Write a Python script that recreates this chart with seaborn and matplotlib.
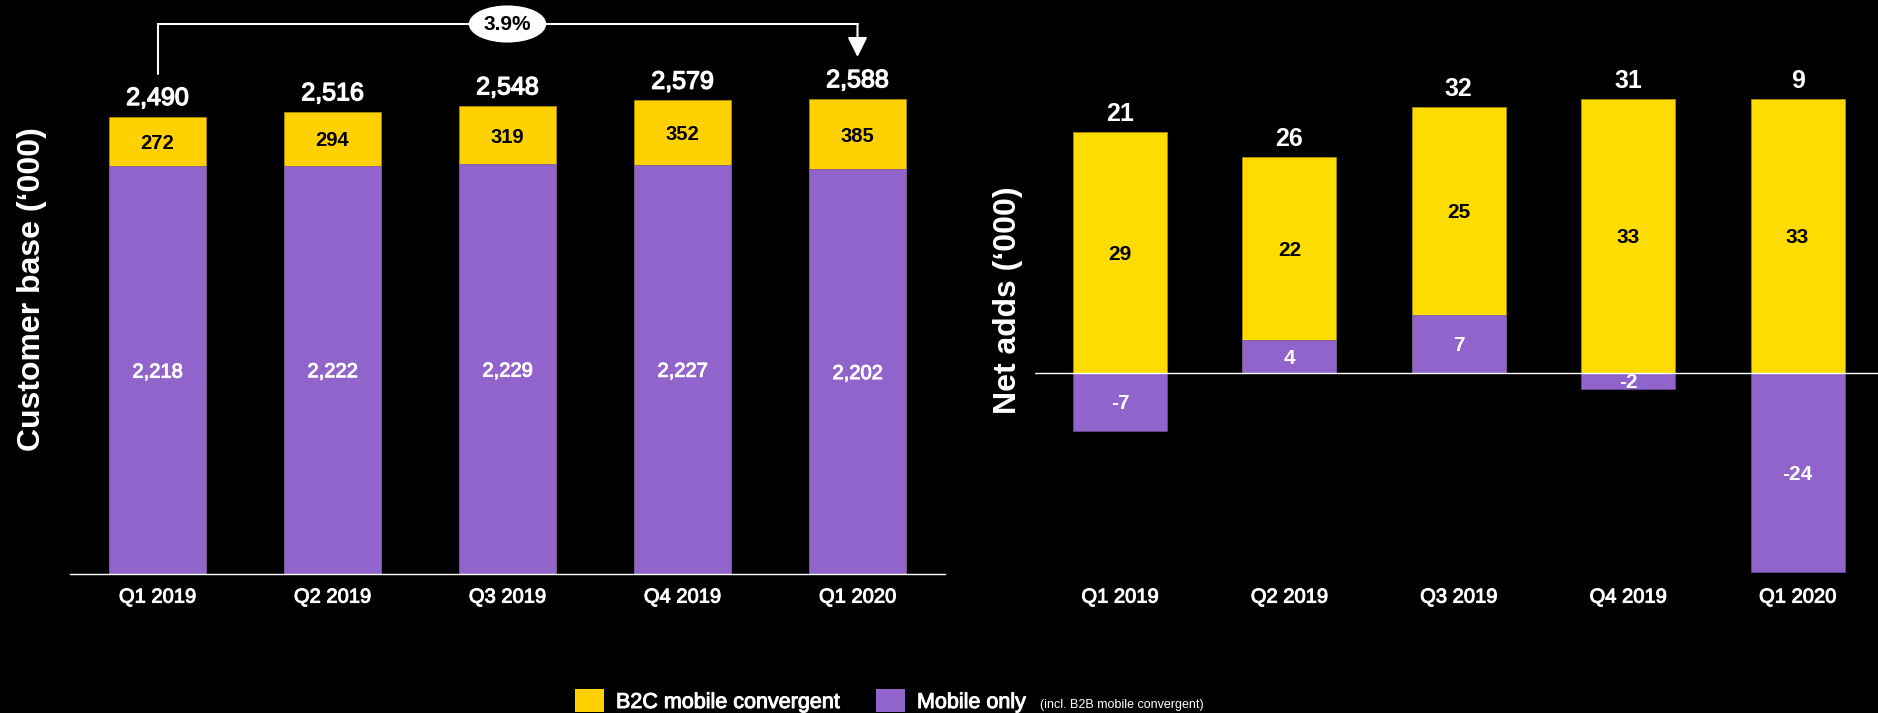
import matplotlib
matplotlib.use("Agg")
import matplotlib.pyplot as plt
import matplotlib.patheffects as pe
from matplotlib.patches import Rectangle
import pandas as pd
import seaborn as sns

# ---- data -------------------------------------------------------------
quarters = ["Q1 2019", "Q2 2019", "Q3 2019", "Q4 2019", "Q1 2020"]

base_convergent = [272, 294, 319, 352, 385]
base_mobile_only = [2218, 2222, 2229, 2227, 2202]
base_total = [2490, 2516, 2548, 2579, 2588]

adds_convergent = [29, 22, 25, 33, 33]
adds_mobile_only = [-7, 4, 7, -2, -24]
adds_total = [21, 26, 32, 31, 9]

growth_label = "3.9%"
legend_labels = ["B2C mobile convergent", "Mobile only", "(incl. B2B mobile convergent)"]

# ---- style ------------------------------------------------------------
YEL_L = "#FFD100"
YEL_R = "#FFDC00"
PURPLE = "#9164CC"
YEL_EDGE = "#B09200"
PUR_EDGE = "#6E4C9E"

sns.set_theme(style="dark", rc={
    "figure.facecolor": "black",
    "axes.facecolor": "black",
    "savefig.facecolor": "black",
    "text.color": "white",
    "axes.grid": False,
})
plt.rcParams["font.family"] = ["Liberation Sans", "DejaVu Sans"]

# a slightly heavier stroke gives a "medium" weight look to regular text
MEDIUM_W = [pe.withStroke(linewidth=0.7, foreground="white")]

W, H = 1878, 713
fig = plt.figure(figsize=(W / 100, H / 100), dpi=100)

BASE_PX = 573.7          # baseline of both panels (pixels from top)
left_ppu = 0.1836        # pixels per thousand customers
right_ppu = 8.3          # pixels per thousand net adds
zero_px = 372.7

ax1 = fig.add_axes([70 / W, (H - BASE_PX) / H, 875 / W, BASE_PX / H])
ax2 = fig.add_axes([1035.3 / W, (H - BASE_PX) / H, 847 / W, BASE_PX / H])

# ---- left panel: customer base ---------------------------------------
df_base = pd.DataFrame({
    "quarter": quarters,
    "convergent": base_convergent,
    "mobile_only": base_mobile_only,
})
df_base["stack"] = df_base["convergent"] + df_base["mobile_only"]

sns.barplot(data=df_base, x="quarter", y="stack", color=YEL_L, saturation=1,
            width=0.555, edgecolor=YEL_EDGE, linewidth=0.5, errorbar=None, ax=ax1)
sns.barplot(data=df_base, x="quarter", y="mobile_only", color=PURPLE, saturation=1,
            width=0.555, edgecolor=PUR_EDGE, linewidth=0.5, errorbar=None, ax=ax1)

ax1.set_xlim(-0.5, 4.5)
ax1.set_ylim(0, BASE_PX / left_ppu)

for i, (c, m, t) in enumerate(zip(base_convergent, base_mobile_only, base_total)):
    ax1.text(i, m + c / 2, f"{c:,}", ha="center", va="center_baseline",
             fontsize=14.5, fontweight="bold", color="black")
    ax1.text(i, m / 2, f"{m:,}", ha="center", va="center_baseline",
             fontsize=14.5, color="white", path_effects=MEDIUM_W)
    ax1.annotate(f"{t:,}", xy=(i, c + m), xytext=(0, 8.3), textcoords="offset points",
                 ha="center", va="baseline", fontsize=18, color="white",
                 path_effects=[pe.withStroke(linewidth=1.0, foreground="white")])

# growth bracket from first to last quarter
bracket_y = (BASE_PX - 24) / left_ppu
start_y = (BASE_PX - 74) / left_ppu
tip_y = (BASE_PX - 57) / left_ppu
ax1.plot([0, 0, 4], [start_y, bracket_y, bracket_y], color="white", lw=1.5,
         clip_on=False, solid_joinstyle="miter")
ax1.annotate("", xy=(4, tip_y), xytext=(4, bracket_y),
             arrowprops=dict(arrowstyle="-|>,head_length=0.6,head_width=0.3",
                             color="white", lw=1.5, shrinkA=0, shrinkB=0,
                             mutation_scale=20), annotation_clip=False)
ax1.text(2, bracket_y, growth_label, ha="center", va="center", fontsize=15,
         fontweight="bold", color="black",
         bbox=dict(boxstyle="ellipse,pad=0.15", fc="white", ec="white"))

ax1.text(-0.0434, 0.496, "Customer base (‘000)", transform=ax1.transAxes,
         rotation=90, ha="center", va="center", fontsize=23, fontweight="bold",
         color="white")

# ---- right panel: net adds -------------------------------------------
df_adds = pd.DataFrame({
    "quarter": quarters,
    "convergent": adds_convergent,
    "mobile_only": adds_mobile_only,
})
df_adds["pos_top"] = df_adds["convergent"] + df_adds["mobile_only"].clip(lower=0)

sns.barplot(data=df_adds, x="quarter", y="pos_top", color=YEL_R, saturation=1,
            width=0.555, edgecolor=YEL_EDGE, linewidth=0.5, errorbar=None, ax=ax2)
sns.barplot(data=df_adds, x="quarter", y="mobile_only", color=PURPLE, saturation=1,
            width=0.555, edgecolor=PUR_EDGE, linewidth=0.5, errorbar=None, ax=ax2)

ax2.set_xlim(-0.5, 4.5)
ax2.set_ylim(-(BASE_PX - zero_px) / right_ppu, zero_px / right_ppu)
ax2.axhline(0, color="white", lw=1.0, zorder=5)

for i, (c, m, t) in enumerate(zip(adds_convergent, adds_mobile_only, adds_total)):
    lower = max(m, 0)
    ax2.text(i, lower + c / 2, f"{c}", ha="center", va="center_baseline",
             fontsize=15, fontweight="bold", color="black")
    ax2.text(i, m / 2, f"{m}", ha="center", va="center_baseline",
             fontsize=15, fontweight="bold", color="white")
    ax2.annotate(f"{t}", xy=(i, lower + c), xytext=(0, 8), textcoords="offset points",
                 ha="center", va="baseline", fontsize=18, fontweight="bold",
                 color="white")

ax2.text((1008 - 1035.3) / 847, (BASE_PX - 300) / BASE_PX, "Net adds (‘000)",
         transform=ax2.transAxes, rotation=90, ha="center", va="center",
         fontsize=23, fontweight="bold", color="white")

# ---- shared axis styling ---------------------------------------------
for ax in (ax1, ax2):
    ax.set_xlabel("")
    ax.set_ylabel("")
    ax.set_yticks([])
    ax.tick_params(axis="x", length=0, pad=10, labelsize=14.5, colors="white")
    for lbl in ax.get_xticklabels():
        lbl.set_path_effects(MEDIUM_W)
    for side in ("top", "right", "left"):
        ax.spines[side].set_visible(False)
ax1.spines["bottom"].set_color("white")
ax1.spines["bottom"].set_linewidth(1.0)
ax2.spines["bottom"].set_visible(False)

# ---- legend ----------------------------------------------------------
base_y = (H - 708) / H
fig.add_artist(Rectangle((575 / W, 1 / H), 29 / W, 23 / H, transform=fig.transFigure,
                         facecolor=YEL_L, edgecolor="none"))
fig.text(616 / W, base_y, legend_labels[0], ha="left", va="baseline",
         fontsize=15.5, color="white", path_effects=MEDIUM_W)
fig.add_artist(Rectangle((876 / W, 1 / H), 29 / W, 23 / H, transform=fig.transFigure,
                         facecolor=PURPLE, edgecolor="none"))
fig.text(917 / W, base_y, legend_labels[1], ha="left", va="baseline",
         fontsize=15.5, color="white", path_effects=MEDIUM_W)
fig.text(1040 / W, base_y, legend_labels[2], ha="left", va="baseline",
         fontsize=9, color="white")

fig.savefig("out.png", dpi=100, facecolor="black")
